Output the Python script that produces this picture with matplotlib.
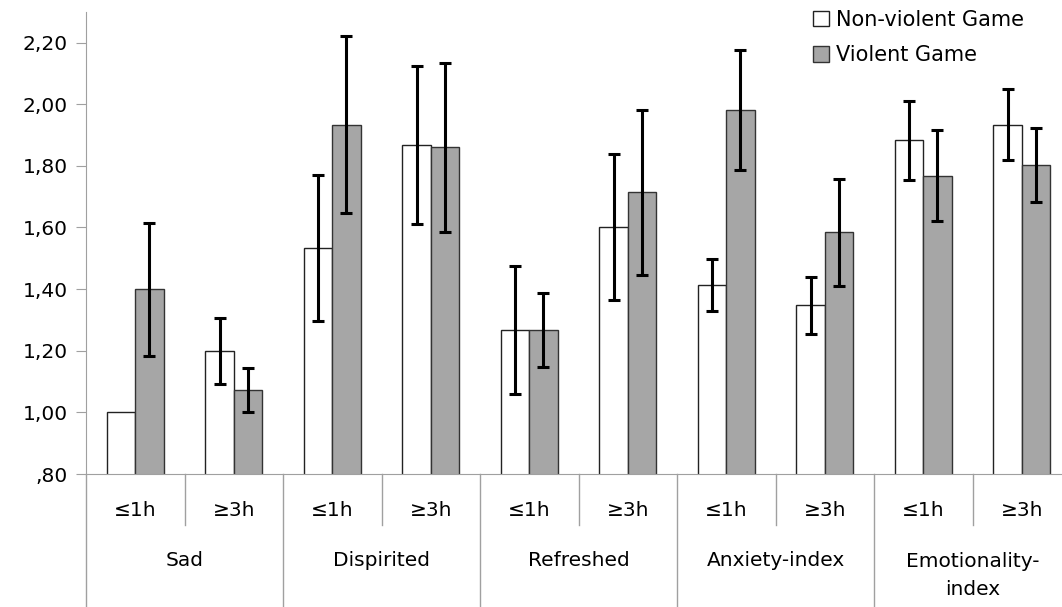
import matplotlib.pyplot as plt
import numpy as np
from matplotlib.lines import Line2D

# data
groups = ['Sad', 'Dispirited', 'Refreshed', 'Anxiety-index', 'Emotionality-\nindex']
hours = ['≤1h', '≥3h']
nonviolent = [1.00, 1.20, 1.534, 1.867, 1.267, 1.601, 1.413, 1.347, 1.883, 1.934]
nonviolent_err = [0.0, 0.107, 0.237, 0.256, 0.207, 0.236, 0.084, 0.092, 0.128, 0.116]
violent = [1.40, 1.072, 1.934, 1.860, 1.267, 1.714, 1.981, 1.584, 1.768, 1.804]
violent_err = [0.216, 0.072, 0.286, 0.275, 0.119, 0.268, 0.194, 0.173, 0.148, 0.120]

fig = plt.figure(figsize=(10.62, 6.07), dpi=100)
ax = fig.add_axes([0.081, 0.2191, 0.9275, 0.7616])

x = np.arange(len(nonviolent))
w = 0.2875
ax.bar(x - w / 2, nonviolent, w, color='white', edgecolor='#222222', linewidth=1,
       label='Non-violent Game')
ax.bar(x + w / 2, violent, w, color='#a6a6a6', edgecolor='#333333', linewidth=1,
       label='Violent Game')

# error bars (skip the ones with zero spread)
for xs, ys, es in [(x - w / 2, nonviolent, nonviolent_err), (x + w / 2, violent, violent_err)]:
    ys = np.array(ys)
    es = np.array(es)
    m = es > 0
    ax.errorbar(xs[m], ys[m], yerr=es[m], fmt='none', ecolor='black',
                elinewidth=2.2, capsize=4, capthick=2.2)

ax.set_ylim(0.80, 2.30)
ax.set_xlim(-0.5, len(x) - 0.5)
yt = np.arange(0.80, 2.21, 0.20)
ax.set_yticks(yt)
ax.set_yticklabels([(',%02d' % round(v * 100 % 100)) if v < 1 else ('%.2f' % v).replace('.', ',')
                    for v in yt], fontsize=14.5)
ax.tick_params(axis='y', length=7, color='#a0a0a0', pad=6)
ax.set_xticks([])
for s in ['top', 'right']:
    ax.spines[s].set_visible(False)
ax.spines['left'].set_color('#a0a0a0')
ax.spines['bottom'].set_color('#a0a0a0')

# multi-level category axis
tr = ax.get_xaxis_transform()
for i in range(len(x)):
    ax.text(i, -0.08, hours[i % 2], transform=tr, ha='center', va='center', fontsize=14.5)
for i in range(1, len(x), 2):
    ax.add_line(Line2D([i - 0.5, i - 0.5], [0, -0.11], transform=tr, color='#a0a0a0',
                       lw=1, clip_on=False))
for i in range(0, len(x) + 1, 2):
    ax.add_line(Line2D([i - 0.5, i - 0.5], [0, -0.29], transform=tr, color='#a0a0a0',
                       lw=1, clip_on=False))
for j, g in enumerate(groups):
    yy = -0.22 if '\n' in g else -0.187
    ax.text(2 * j + 0.5, yy, g, transform=tr, ha='center', va='center', fontsize=14.5,
            linespacing=1.6)

ax.legend(loc='upper left', bbox_to_anchor=(0.752, 1.008), bbox_transform=fig.transFigure,
          frameon=False, fontsize=15, handlelength=0.75, handleheight=0.75,
          handletextpad=0.35, labelspacing=0.75, borderpad=0.2)

fig.savefig('out.png', dpi=100)
